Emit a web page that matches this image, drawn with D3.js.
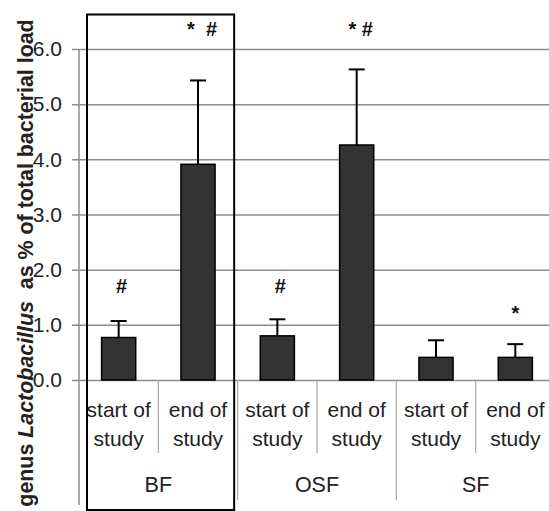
<!DOCTYPE html>
<html>
<head>
<meta charset="utf-8">
<script src="https://cdn.jsdelivr.net/npm/d3@7"></script>
<style>
  body { margin: 0; background: #fff; }
  text { font-family: "Liberation Sans", Arial, Helvetica, sans-serif; }
</style>
</head>
<body>
<script>
"use strict";

// chart values
const groups = ["BF", "OSF", "SF"];
const timepoints = ["start of study", "end of study"];
const means = [0.77, 3.91, 0.80, 4.26, 0.41, 0.41];
const errTops = [1.07, 5.43, 1.10, 5.63, 0.72, 0.65];
const marks = ["#", "*  #", "#", "* #", "", "*"];
const markAt = [1.57, 6.235, 1.57, 6.235, 0, 1.08];
const yTicks = [0, 1, 2, 3, 4, 5, 6];

(function () {
  const width = 549, height = 511;
  const plotLeft = 79, plotRight = 555, plotTop = 49, plotBottom = 380;

  const svg = d3.select("body").append("svg")
    .attr("width", width)
    .attr("height", height);

  svg.append("rect").attr("width", width).attr("height", height).attr("fill", "#fff");

  // one slot per bar
  const slots = d3.range(groups.length * timepoints.length);
  const x = d3.scaleBand().domain(slots).range([plotLeft, plotRight]);
  const xGroup = d3.scaleBand().domain(groups).range([plotLeft, plotRight]);
  const y = d3.scaleLinear().domain([0, 6]).range([plotBottom, plotTop]);

  // ticks, labels and gridlines
  svg.append("g")
    .attr("transform", `translate(${plotLeft},0)`)
    .call(d3.axisLeft(y).tickValues(yTicks).tickSize(7).tickFormat(d3.format(".1f")).tickPadding(10))
    .call(g => g.select(".domain").remove())
    .call(g => g.selectAll(".tick line").attr("x1", -7).attr("x2", width - plotLeft + 10)
      .attr("stroke", "#8c8c8c").attr("stroke-width", 1.5))
    .call(g => g.selectAll(".tick text").attr("font-size", 21).attr("fill", "#222")
      .attr("font-family", "'Liberation Sans', Arial, sans-serif"));

  // vertical axis line, runs down through the label area
  svg.append("line")
    .attr("x1", plotLeft).attr("x2", plotLeft)
    .attr("y1", y(6)).attr("y2", 505)
    .attr("stroke", "#8c8c8c").attr("stroke-width", 1.5);

  // separators in the category area
  const sepColor = "#a8a8a8";
  slots.slice(1).forEach(i => {
    svg.append("line")
      .attr("x1", x(i)).attr("x2", x(i))
      .attr("y1", plotBottom).attr("y2", i % 2 === 0 ? 500 : 453)
      .attr("stroke", sepColor).attr("stroke-width", 1.2);
  });

  // bars
  const barW = x.bandwidth() * 0.43;
  const cx = i => x(i) + x.bandwidth() / 2;

  svg.append("g").selectAll("rect")
    .data(means)
    .join("rect")
    .attr("x", (d, i) => cx(i) - barW / 2)
    .attr("y", d => y(d))
    .attr("width", barW)
    .attr("height", d => y(0) - y(d))
    .attr("fill", "#333")
    .attr("stroke", "#000")
    .attr("stroke-width", 1.5);

  // error bars
  const err = svg.append("g").attr("stroke", "#000").attr("stroke-width", 2);
  errTops.forEach((e, i) => {
    err.append("line").attr("x1", cx(i)).attr("x2", cx(i)).attr("y1", y(means[i])).attr("y2", y(e));
    err.append("line").attr("x1", cx(i) - 8).attr("x2", cx(i) + 8).attr("y1", y(e)).attr("y2", y(e));
  });

  // significance marks
  svg.append("g").selectAll("text")
    .data(marks)
    .join("text")
    .attr("x", (d, i) => cx(i) + (d.length > 1 ? 4 : d === "#" ? 3 : 0))
    .attr("y", (d, i) => y(markAt[i]))
    .attr("text-anchor", "middle")
    .attr("font-size", 20)
    .attr("font-weight", "bold")
    .attr("fill", "#111")
    .attr("xml:space", "preserve")
    .text(d => d);

  // category labels
  const catLabels = svg.append("g").attr("font-size", 21).attr("fill", "#222").attr("text-anchor", "middle");
  slots.forEach(i => {
    const words = timepoints[i % 2].split(" ");
    catLabels.append("text").attr("x", cx(i)).attr("y", 417).text(words.slice(0, 2).join(" "));
    catLabels.append("text").attr("x", cx(i)).attr("y", 446).text(words[2]);
  });
  svg.append("g").attr("font-size", 21.5).attr("fill", "#222").attr("text-anchor", "middle")
    .selectAll("text")
    .data(groups)
    .join("text")
    .attr("x", d => xGroup(d) + xGroup.bandwidth() / 2)
    .attr("y", 492)
    .text(d => d);

  // box around BF
  svg.append("rect")
    .attr("x", xGroup("BF") + 8)
    .attr("y", 14.5)
    .attr("width", xGroup.bandwidth() - 11.5)
    .attr("height", 495.5)
    .attr("fill", "none")
    .attr("stroke", "#000")
    .attr("stroke-width", 2);

  // y axis title
  const title = svg.append("text")
    .attr("transform", "translate(33,263) rotate(-90)")
    .attr("text-anchor", "middle")
    .attr("font-size", 21.4)
    .attr("font-weight", "bold")
    .attr("fill", "#222")
    .attr("xml:space", "preserve");
  title.append("tspan").text("genus ");
  title.append("tspan").attr("font-style", "italic").text("Lactobacillus");
  title.append("tspan").text("  as % of total bacterial load");
})();
</script>
</body>
</html>
